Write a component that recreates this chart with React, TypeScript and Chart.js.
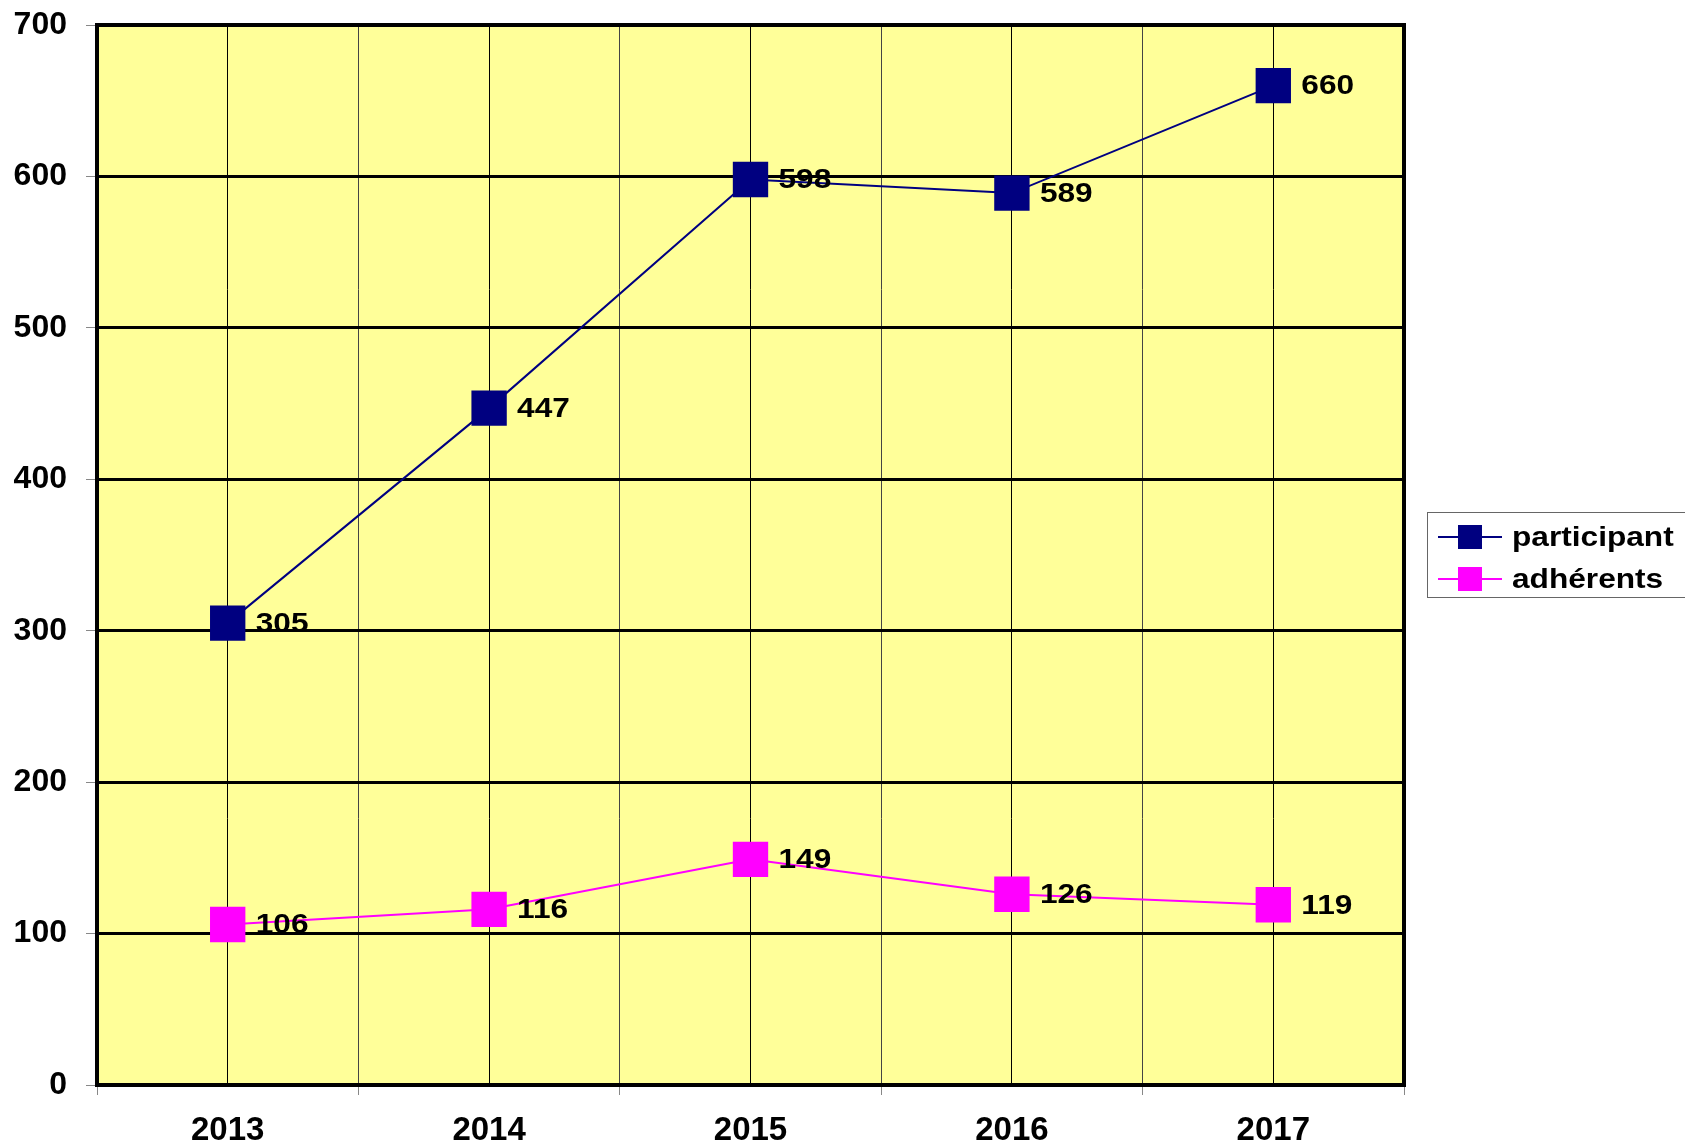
import React, { useEffect, useRef } from 'react';
import { Chart, registerables } from 'chart.js';
Chart.register(...registerables);

const years = ['2013', '2014', '2015', '2016', '2017'];
const participants = [305, 447, 598, 589, 660];
const adherents = [106, 116, 149, 126, 119];
const seriesNames = ['participant', 'adhérents'];
const seriesColors = ['#000080', '#FF00FF'];
const yMin = 0;
const yMax = 700;
const yStep = 100;

const FONT = '"Liberation Sans", Arial, sans-serif';
const STRETCH = 1.13;

function drawStretchedText(ctx: CanvasRenderingContext2D, text: string, x: number, y: number) {
  ctx.save();
  ctx.translate(x, y);
  ctx.scale(STRETCH, 1);
  ctx.fillText(text, 0, 0);
  ctx.restore();
}

const bgPlugin = {
  id: 'bgPlugin',
  beforeDraw(chart: any) {
    const { ctx, chartArea: a } = chart;
    ctx.save();
    ctx.fillStyle = '#FFFF99';
    ctx.fillRect(a.left, a.top, a.right - a.left, a.bottom - a.top);
    ctx.restore();
  },
  beforeDatasetsDraw(chart: any) {
    const { ctx, chartArea: a } = chart;
    ctx.save();
    ctx.strokeStyle = '#000';
    ctx.lineWidth = 4;
    ctx.strokeRect(a.left, a.top, a.right - a.left, a.bottom - a.top);
    ctx.restore();
  },
};

const labelPlugin = {
  id: 'labelPlugin',
  afterDatasetsDraw(chart: any) {
    const { ctx } = chart;
    ctx.save();
    ctx.font = `bold 28px ${FONT}`;
    ctx.fillStyle = '#000';
    ctx.textBaseline = 'middle';
    ctx.textAlign = 'left';
    chart.data.datasets.forEach((ds: any, di: number) => {
      const meta = chart.getDatasetMeta(di);
      meta.data.forEach((pt: any, i: number) => {
        drawStretchedText(ctx, String(ds.data[i].y), pt.x + 28, pt.y + 1);
      });
    });
    ctx.restore();
  },
};

const legendPlugin = {
  id: 'legendPlugin',
  afterDraw(chart: any) {
    const { ctx } = chart;
    ctx.save();
    ctx.fillStyle = '#fff';
    ctx.fillRect(1427.5, 512.5, 300, 85);
    ctx.strokeStyle = '#666';
    ctx.lineWidth = 1;
    ctx.strokeRect(1427.5, 512.5, 300, 85);
    const ys = [537, 579];
    seriesNames.forEach((name, i) => {
      const y = ys[i];
      ctx.strokeStyle = seriesColors[i];
      ctx.lineWidth = 2;
      ctx.beginPath();
      ctx.moveTo(1438, y);
      ctx.lineTo(1502, y);
      ctx.stroke();
      ctx.fillStyle = seriesColors[i];
      ctx.fillRect(1458, y - 12, 24, 24);
      ctx.fillStyle = '#000';
      ctx.font = `bold 28px ${FONT}`;
      ctx.textBaseline = 'middle';
      ctx.textAlign = 'left';
      drawStretchedText(ctx, name, 1512, y + 1);
    });
    ctx.restore();
  },
};

export default function App() {
  const ref = useRef<HTMLCanvasElement | null>(null);
  useEffect(() => {
    document.body.style.margin = '0';
    if (!ref.current) return;
    const chart = new Chart(ref.current, {
      type: 'line',
      data: {
        datasets: [
          {
            label: seriesNames[0],
            data: participants.map((v, i) => ({ x: i, y: v })),
            borderColor: seriesColors[0],
            backgroundColor: seriesColors[0],
            borderWidth: 2,
            pointStyle: 'rect',
            pointRadius: 25,
            pointBorderWidth: 0,
            pointHoverRadius: 25,
          },
          {
            label: seriesNames[1],
            data: adherents.map((v, i) => ({ x: i, y: v })),
            borderColor: seriesColors[1],
            backgroundColor: seriesColors[1],
            borderWidth: 2,
            pointStyle: 'rect',
            pointRadius: 25,
            pointBorderWidth: 0,
            pointHoverRadius: 25,
          },
        ],
      },
      options: {
        animation: false,
        responsive: false,
        maintainAspectRatio: false,
        layout: { padding: { left: 0, top: 24, right: 281, bottom: 0 } },
        plugins: { legend: { display: false }, tooltip: { enabled: false } },
        scales: {
          x: {
            type: 'linear',
            min: -0.5,
            max: years.length - 0.5,
            afterFit(scale: any) {
              scale.height = 59;
              scale.paddingLeft = 0;
              scale.paddingRight = 0;
            },
            ticks: {
              stepSize: 0.5,
              autoSkip: false,
              maxRotation: 0,
              padding: 16,
              color: '#000',
              font: { family: FONT, size: 33, weight: 'bold' },
              callback: (v: any) => (Number.isInteger(v) ? years[v] : ''),
            },
            grid: {
              color: (c: any) => (Number.isInteger(c.tick?.value) ? '#000' : '#444'),
              lineWidth: 1,
              tickLength: 10,
              tickWidth: 1,
              tickColor: (c: any) => (Number.isInteger(c.tick?.value) ? 'rgba(0,0,0,0)' : '#888'),
            },
            border: { display: true, color: '#000', width: 4 },
          },
          y: {
            min: yMin,
            max: yMax,
            afterFit(scale: any) {
              scale.width = 97;
              scale.paddingTop = 0;
              scale.paddingBottom = 0;
            },
            ticks: {
              stepSize: yStep,
              padding: 19,
              color: '#000',
              font: { family: FONT, size: 32, weight: 'bold' },
            },
            grid: {
              color: '#000',
              lineWidth: 3,
              tickLength: 11,
              tickWidth: 1,
              tickColor: '#888',
            },
            border: { display: true, color: '#000', width: 4 },
          },
        },
      },
      plugins: [bgPlugin, labelPlugin, legendPlugin],
    } as any);
    return () => chart.destroy();
  }, []);
  return (
    <div style={{ position: 'absolute', left: 0, top: 0, width: 1685, height: 1144 }}>
      <canvas ref={ref} width={1685} height={1144} style={{ display: 'block' }} />
    </div>
  );
}
